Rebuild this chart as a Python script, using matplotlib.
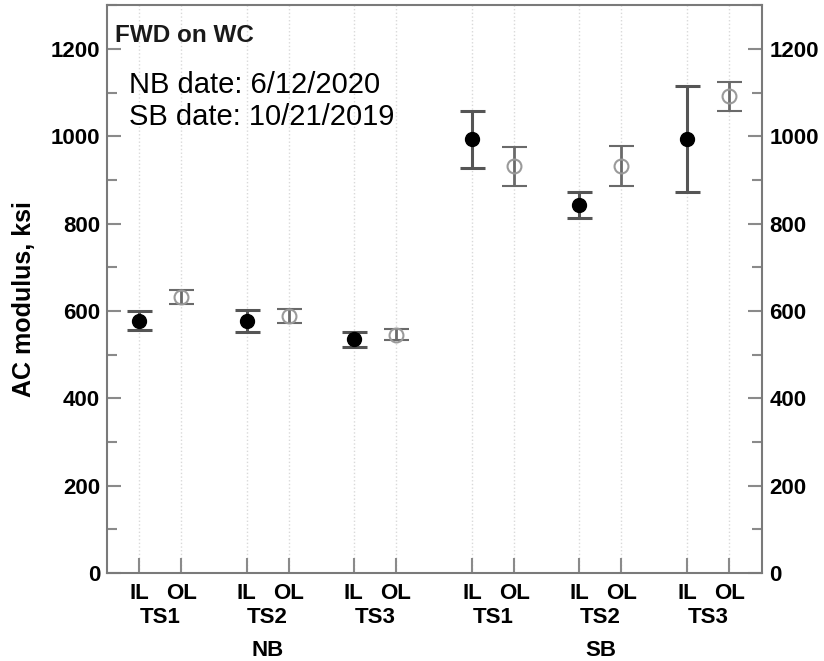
import matplotlib.pyplot as plt
import numpy as np
from matplotlib.ticker import MultipleLocator
from matplotlib.transforms import blended_transform_factory

plt.rcParams['font.family'] = ['Liberation Sans', 'DejaVu Sans']

# test sections and directions
sections = ['TS1', 'TS2', 'TS3', 'TS1', 'TS2', 'TS3']
directions = ['NB', 'SB']
lanes = ['IL', 'OL']

# AC modulus (ksi): mean, lower and upper bound of each bar
il_mean = [577, 578, 536, 993, 842, 995]
il_low = [556, 553, 518, 927, 813, 873]
il_high = [599, 603, 551, 1059, 873, 1115]

ol_mean = [633, 589, 546, 931, 931, 1092]
ol_low = [616, 573, 533, 886, 886, 1059]
ol_high = [649, 604, 559, 976, 978, 1124]

# x position of the IL mark in each section (OL sits one unit right)
il_x = np.array([1.0, 3.56, 6.11, 8.93, 11.48, 14.05])
ol_x = il_x + 1.0

fig, ax = plt.subplots(figsize=(8.24, 6.61), dpi=100)
fig.subplots_adjust(left=0.130, right=0.925, bottom=0.133, top=0.992)

bar_col = '#555555'
il_err = [np.array(il_mean) - np.array(il_low), np.array(il_high) - np.array(il_mean)]
ol_err = [np.array(ol_mean) - np.array(ol_low), np.array(ol_high) - np.array(ol_mean)]

ax.errorbar(il_x, il_mean, yerr=il_err, fmt='o', color='black', ms=10,
            ecolor=bar_col, elinewidth=2.2, capsize=9, capthick=2.2, zorder=3)
ax.errorbar(ol_x, ol_mean, yerr=ol_err, fmt='o', mfc='none', mec='#9a9a9a',
            mew=1.5, ms=10, ecolor='#6a6a6a', elinewidth=2, capsize=9,
            capthick=2, zorder=3)

ax.set_xlim(0.24, 15.83)
ax.set_ylim(0, 1300)

fs = 16
xt = np.ravel(np.column_stack([il_x, ol_x]))
ax.set_xticks(xt)
ax.set_xticklabels(lanes * len(sections), fontsize=fs, fontweight='bold')
ax.xaxis.grid(True, linestyle=':', color='#d9d9d9', linewidth=1)

ax.yaxis.set_major_locator(MultipleLocator(200))
ax.yaxis.set_minor_locator(MultipleLocator(100))
ax.tick_params(axis='both', which='both', direction='in', color='#8a8a8a', width=1.5)
ax.tick_params(axis='y', which='major', length=10, pad=5, right=True, labelright=True)
ax.tick_params(axis='y', which='minor', length=7, right=True)
ax.tick_params(axis='x', length=11, pad=7)
for lab in ax.get_yticklabels():
    lab.set_fontsize(fs)
    lab.set_fontweight('bold')

for s in ax.spines.values():
    s.set_color('#7a7a7a')
    s.set_linewidth(1.5)

ax.set_ylabel('AC modulus, ksi', fontsize=18, fontweight='bold')
ax.yaxis.set_label_coords(-0.108, 0.482)

# section and direction labels under the lane ticks
trans = blended_transform_factory(ax.transData, ax.transAxes)
for i, name in enumerate(sections):
    ax.text((il_x[i] + ol_x[i]) / 2, -0.078, name, transform=trans,
            ha='center', va='center', fontsize=fs, fontweight='bold')
for j, d in enumerate(directions):
    mid = (il_x[3 * j + 1] + ol_x[3 * j + 1]) / 2
    ax.text(mid, -0.136, d, transform=trans, ha='center', va='center',
            fontsize=fs, fontweight='bold')

ax.text(0.012, 0.947, 'FWD on WC', transform=ax.transAxes, ha='left', va='center',
        fontsize=17.5, fontweight='bold', color='#1a1a1a')
ax.text(0.034, 0.831, 'NB date: 6/12/2020\nSB date: 10/21/2019', transform=ax.transAxes,
        ha='left', va='center', fontsize=21, linespacing=1.2)

plt.savefig('out.png', dpi=100)
